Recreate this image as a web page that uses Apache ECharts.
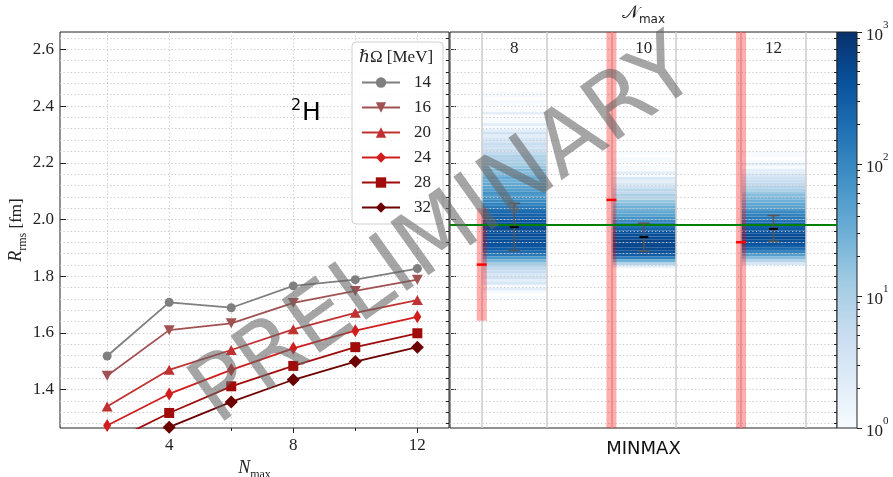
<!DOCTYPE html>
<html>
<head>
<meta charset="utf-8">
<script src="https://cdn.jsdelivr.net/npm/echarts@6/dist/echarts.min.js"></script>
<style>
  html, body { margin: 0; padding: 0; background: #fff; }
  #chart { width: 893px; height: 477px; }
</style>
</head>
<body>
<div id="chart"></div>
<script>
// ---- left panel: R_rms vs Nmax, one line per hbar*Omega ----
const nmax = [2, 4, 6, 8, 10, 12]
const hwLabels = ['14', '16', '20', '24', '28', '32']
const r14 = [1.519, 1.708, 1.689, 1.766, 1.788, 1.827]
const r16 = [1.449, 1.610, 1.634, 1.706, 1.748, 1.788]
const r20 = [1.341, 1.470, 1.540, 1.613, 1.671, 1.716]
const r24 = [1.274, 1.385, 1.470, 1.546, 1.608, 1.657]
const r28 = [1.210, 1.318, 1.412, 1.484, 1.550, 1.599]
const r32 = [1.170, 1.268, 1.357, 1.435, 1.499, 1.550]

// axis ticks
const yMajor = [1.4, 1.6, 1.8, 2.0, 2.2, 2.4, 2.6]
const yMinor = [1.28, 1.32, 1.36, 1.40, 1.44, 1.48, 1.52, 1.56, 1.60, 1.64, 1.68, 1.72,
  1.76, 1.80, 1.84, 1.88, 1.92, 1.96, 2.00, 2.04, 2.08, 2.12, 2.16, 2.20, 2.24, 2.28,
  2.32, 2.36, 2.40, 2.44, 2.48, 2.52, 2.56, 2.60, 2.64]
const xMajor = [4, 8, 12]
const xGrid = [2, 4, 6, 8, 10, 12]

// ---- right panel: MINMAX histograms per Nmax ----
const colNmax = [8, 10, 12]
const colLabels = ['8', '10', '12']
const colLines = [8, 9, 10, 11, 12, 13]
const binWidth = 0.01
const hist8Start = 1.72
const hist8 = [1, 0, 1, 2, 1, 3, 2, 4, 3, 5, 6, 8, 12, 25, 60, 140, 220, 300, 380, 420,
  450, 400, 480, 420, 500, 450, 400, 360, 300, 260, 220, 180, 150, 110, 90, 75, 60, 70, 50, 45,
  38, 30, 35, 25, 20, 22, 15, 12, 10, 8, 9, 6, 5, 4, 5, 3, 3, 2, 4, 2,
  1, 2, 1, 1, 0, 2, 1, 0, 1, 1, 0, 1, 1]
const hist10Start = 1.83
const hist10 = [2, 8, 30, 120, 300, 420, 500, 550, 520, 600, 480, 450, 380, 260, 180, 130, 90, 70, 45, 35,
  28, 30, 20, 15, 8, 10, 6, 7, 4, 3, 2, 3, 1, 2, 1, 1, 0, 1, 1, 0, 1]
const hist12Start = 1.83
const hist12 = [1, 3, 8, 20, 50, 110, 200, 300, 400, 450, 500, 480, 420, 350, 280, 220, 170, 150, 110, 90,
  60, 45, 40, 30, 25, 20, 14, 10, 8, 6, 5, 4, 3, 2, 2, 1, 2, 1, 0, 1, 1]

// red estimate + band, and mean +- error
const estMid = [1.841, 2.069, 1.920]
const estLo = [1.643, 1.0, 1.0]
const estHi = [2.039, 3.0, 3.0]
const errMean = [1.973, 1.938, 1.967]
const errLo = [1.891, 1.888, 1.923]
const errHi = [2.057, 1.987, 2.014]
const refR = 1.975

// colorbar (log10 counts)
const cbMajor = [0, 1, 2, 3]
const cbMinorCounts = [2, 3, 4, 5, 6, 7, 8, 9, 20, 30, 40, 50, 60, 70, 80, 90, 200, 300, 400, 500, 600, 700, 800, 900]

const BLUES = ['#f7fbff', '#deebf7', '#c6dbef', '#9ecae1', '#6baed6', '#4292c6', '#2171b5', '#08519c', '#08306b']
const SERIF = "'Liberation Serif', 'DejaVu Serif', serif"
const SANS = "'DejaVu Sans', 'Liberation Sans', sans-serif"
const INK = '#222'
const GRID_DOT = { color: '#c8c8c8', width: 1, type: [1.2, 2.4] }

const Y_MIN = 1.265, Y_MAX = 2.661

const hwStyles = [
  { color: '#7f7f7f', symbol: 'circle', size: 9 },
  { color: '#a05252', symbol: 'triangle', size: [11, 10], rotate: 180 },
  { color: '#c03232', symbol: 'triangle', size: [11, 10] },
  { color: '#d01e1e', symbol: 'diamond', size: [8, 13] },
  { color: '#a00c0c', symbol: 'rect', size: 10 },
  { color: '#6c0000', symbol: 'diamond', size: [13, 13] },
]
const rValues = [r14, r16, r20, r24, r28, r32]

const heatData = []
;[[hist8Start, hist8], [hist10Start, hist10], [hist12Start, hist12]].forEach(([start, hist], c) => {
  hist.forEach((n, k) => {
    if (n > 0) heatData.push([colNmax[c], +(start + k * binWidth).toFixed(3), Math.log10(n)])
  })
})

const colCenters = colNmax.map(n => n + 0.5)

const lineSeries = hwStyles.map((s, i) => ({
  type: 'line',
  name: hwLabels[i],
  xAxisIndex: 0,
  yAxisIndex: 0,
  data: nmax.map((n, k) => [n, rValues[i][k]]),
  symbol: s.symbol,
  symbolSize: s.size,
  symbolRotate: s.rotate || 0,
  itemStyle: { color: s.color },
  lineStyle: { color: s.color, width: 1.8 },
  clip: true,
  z: 4,
  emphasis: { disabled: true },
}))

// main glyph lifted by bottom padding, subscript sits on the line bottom
const subRich = {
  i: { fontFamily: SERIF, fontStyle: 'italic', fontSize: 18, verticalAlign: 'bottom', padding: [0, 0, 4, 0], color: INK },
  s: { fontFamily: SERIF, fontSize: 12, verticalAlign: 'bottom', color: INK },
  n: { fontFamily: SERIF, fontSize: 17, verticalAlign: 'bottom', padding: [0, 0, 4, 0], color: INK },
}

const gridBase = { show: true, borderColor: INK, borderWidth: 1, outerBoundsMode: 'none', containLabel: false }

const option = {
  animation: false,
  backgroundColor: '#fff',
  grid: [
    { ...gridBase, left: 60, top: 32, width: 389, height: 396 },
    { ...gridBase, left: 450, top: 32, width: 387, height: 396 },
    { ...gridBase, show: false, left: 837, top: 32, width: 20, height: 396 },
  ],
  legend: {
    data: hwLabels,
    orient: 'vertical',
    left: 352,
    top: 42,
    padding: [32, 12, 8, 9],
    itemWidth: 38,
    itemHeight: 13,
    itemGap: 8,
    selectedMode: false,
    backgroundColor: 'rgba(255,255,255,0.85)',
    borderColor: '#d0d0d0',
    borderWidth: 1,
    borderRadius: 4,
    textStyle: { fontFamily: SERIF, fontSize: 17, color: INK, padding: [0, 0, 0, 9] },
    z: 20,
  },
  visualMap: {
    type: 'continuous',
    show: false,
    seriesIndex: 6,
    dimension: 2,
    min: 0,
    max: 3,
    inRange: { color: BLUES },
  },
  xAxis: [
    {
      gridIndex: 0, type: 'value', min: 0.48, max: 13.02, position: 'bottom',
      axisLine: { show: false, onZero: false },
      axisTick: { customValues: xMajor, length: 5, lineStyle: { color: INK } },
      axisLabel: { customValues: xMajor, fontFamily: SERIF, fontSize: 17, color: INK, margin: 9 },
      splitLine: { show: false },
      name: '{i|N}{s|max}', nameLocation: 'middle', nameGap: 24,
      nameTextStyle: { rich: subRich },
    },
    {
      gridIndex: 0, type: 'value', min: 0.48, max: 13.02, position: 'bottom',
      axisLine: { show: false, onZero: false },
      axisTick: { customValues: xGrid, length: 3, lineStyle: { color: INK } },
      axisLabel: { show: false },
      splitLine: { show: true, lineStyle: GRID_DOT },
    },
    {
      gridIndex: 1, type: 'value', min: 7.51, max: 13.48, position: 'bottom',
      axisLine: { show: false, onZero: false },
      axisTick: { show: false, customValues: colLines },
      axisLabel: { show: false },
      splitLine: { show: true, lineStyle: { color: '#cccccc', width: 1.5 } },
      z: 3,
      name: 'MINMAX', nameLocation: 'middle', nameGap: 12,
      nameTextStyle: { fontFamily: SANS, fontSize: 18, color: '#111' },
    },
    {
      gridIndex: 1, type: 'value', min: 7.51, max: 13.48, position: 'top',
      axisLine: { show: false, onZero: false },
      axisTick: { show: false },
      axisLabel: {
        inside: true, customValues: colCenters, margin: 8,
        fontFamily: SERIF, fontSize: 17, color: INK,
        formatter: v => colLabels[colCenters.indexOf(v)],
      },
      splitLine: { show: false },
      name: '{c|\u{1D4A9}}{s|max}', nameLocation: 'middle', nameGap: 6,
      nameTextStyle: {
        rich: {
          c: { fontFamily: "'DejaVu Serif', serif", fontSize: 18, verticalAlign: 'bottom', padding: [0, 0, 4, 0], color: INK },
          s: { fontFamily: SANS, fontSize: 12, verticalAlign: 'bottom', color: INK },
        },
      },
    },
    { gridIndex: 2, type: 'value', min: 0, max: 1, show: false },
  ],
  yAxis: [
    {
      gridIndex: 0, type: 'value', min: Y_MIN, max: Y_MAX,
      axisLine: { show: false, onZero: false },
      axisTick: { inside: true, customValues: yMajor, length: 6, lineStyle: { color: INK } },
      axisLabel: { customValues: yMajor, formatter: v => v.toFixed(1), fontFamily: SERIF, fontSize: 17, color: INK, margin: 6 },
      splitLine: { show: false },
      name: '{i|R}{s|rms}{n| [fm]}', nameLocation: 'middle', nameRotate: 90, nameGap: 28,
      nameTextStyle: { rich: subRich },
    },
    {
      gridIndex: 0, type: 'value', min: Y_MIN, max: Y_MAX,
      axisLine: { show: false, onZero: false },
      axisTick: { inside: true, customValues: yMinor, length: 3, lineStyle: { color: INK } },
      axisLabel: { show: false },
      splitLine: { show: true, lineStyle: GRID_DOT },
    },
    {
      gridIndex: 1, type: 'value', min: Y_MIN, max: Y_MAX,
      axisLine: { show: false, onZero: false },
      axisTick: { inside: true, customValues: yMajor, length: 6, lineStyle: { color: INK } },
      axisLabel: { show: false },
      splitLine: { show: false },
    },
    {
      gridIndex: 1, type: 'value', min: Y_MIN, max: Y_MAX,
      axisLine: { show: false, onZero: false },
      axisTick: { inside: true, customValues: yMinor, length: 3, lineStyle: { color: INK } },
      axisLabel: { show: false },
      splitLine: { show: true, lineStyle: GRID_DOT },
      z: 3,
    },
    {
      gridIndex: 2, type: 'value', min: 0, max: 3, position: 'right',
      axisLine: { show: false, onZero: false },
      axisTick: { customValues: cbMajor, length: 5, lineStyle: { color: INK } },
      axisLabel: {
        customValues: cbMajor, margin: 9,
        formatter: v => '{b|10}{p|' + v + '}',
        rich: {
          b: { fontFamily: SERIF, fontSize: 17, lineHeight: 24, verticalAlign: 'bottom', color: INK },
          p: { fontFamily: SERIF, fontSize: 11, lineHeight: 14, verticalAlign: 'top', color: INK },
        },
      },
      splitLine: { show: false },
    },
    {
      gridIndex: 2, type: 'value', min: 0, max: 3, position: 'right',
      axisLine: { show: false, onZero: false },
      axisTick: { customValues: cbMinorCounts.map(Math.log10), length: 3, lineStyle: { color: INK } },
      axisLabel: { show: false },
      splitLine: { show: false },
    },
  ],
  series: [
    ...lineSeries,
    {
      // histogram stripes
      type: 'custom',
      xAxisIndex: 2,
      yAxisIndex: 2,
      z: 1,
      clip: true,
      dimensions: ['nmax', 'r', 'logc'],
      encode: { x: 0, y: 1 },
      data: heatData,
      renderItem(params, api) {
        const x0 = api.value(0), y0 = api.value(1)
        const a = api.coord([x0, y0 + binWidth])
        const b = api.coord([x0 + 1, y0])
        return {
          type: 'rect',
          shape: { x: a[0], y: a[1], width: b[0] - a[0], height: b[1] - a[1] },
          style: { fill: api.visual('color') },
        }
      },
    },
    {
      // red band + estimate marker
      type: 'custom',
      xAxisIndex: 2,
      yAxisIndex: 2,
      z: 4,
      clip: true,
      encode: { x: 0, y: 3 },
      data: colNmax.map((n, i) => [n, estLo[i], estHi[i], estMid[i]]),
      renderItem(params, api) {
        const lo = api.coord([api.value(0), api.value(1)])
        const hi = api.coord([api.value(0), api.value(2)])
        const mid = api.coord([api.value(0), api.value(3)])
        return {
          type: 'group',
          children: [
            { type: 'rect', shape: { x: lo[0] - 5, y: hi[1], width: 10, height: lo[1] - hi[1] },
              style: { fill: 'rgba(255,0,0,0.32)' } },
            { type: 'line', shape: { x1: mid[0] - 5, y1: mid[1], x2: mid[0] + 5, y2: mid[1] },
              style: { stroke: '#ff0000', lineWidth: 2.5 } },
          ],
        }
      },
    },
    {
      // mean +- error, plus reference line
      type: 'custom',
      xAxisIndex: 2,
      yAxisIndex: 2,
      z: 6,
      clip: true,
      encode: { x: 0, y: 1 },
      data: colNmax.map((n, i) => [n + 0.5, errMean[i], errLo[i], errHi[i]]),
      renderItem(params, api) {
        const m = api.coord([api.value(0), api.value(1)])
        const lo = api.coord([api.value(0), api.value(2)])
        const hi = api.coord([api.value(0), api.value(3)])
        const gray = { stroke: '#555', lineWidth: 1.5 }
        return {
          type: 'group',
          children: [
            { type: 'line', shape: { x1: m[0], y1: lo[1], x2: m[0], y2: hi[1] }, style: gray },
            { type: 'line', shape: { x1: m[0] - 6, y1: lo[1], x2: m[0] + 6, y2: lo[1] }, style: gray },
            { type: 'line', shape: { x1: m[0] - 6, y1: hi[1], x2: m[0] + 6, y2: hi[1] }, style: gray },
            { type: 'line', shape: { x1: m[0] - 4.5, y1: m[1], x2: m[0] + 4.5, y2: m[1] },
              style: { stroke: '#000', lineWidth: 2 } },
          ],
        }
      },
      markLine: {
        silent: true,
        symbol: 'none',
        label: { show: false },
        lineStyle: { color: '#008000', width: 2, type: 'solid' },
        data: [{ yAxis: refR }],
      },
    },
    {
      // colorbar
      type: 'custom',
      xAxisIndex: 4,
      yAxisIndex: 4,
      z: 2,
      data: [[0, cbMajor[0], 1, cbMajor[cbMajor.length - 1]]],
      renderItem(params, api) {
        const a = api.coord([api.value(0), api.value(3)])
        const b = api.coord([api.value(2), api.value(1)])
        return {
          type: 'rect',
          shape: { x: a[0], y: a[1], width: b[0] - a[0], height: b[1] - a[1] },
          style: {
            fill: {
              type: 'linear', x: 0, y: 1, x2: 0, y2: 0,
              colorStops: BLUES.map((c, i) => ({ offset: i / (BLUES.length - 1), color: c })),
            },
            stroke: INK,
            lineWidth: 1,
          },
        }
      },
    },
  ],
  graphic: [
    {
      type: 'text', x: 359, y: 58, z: 30,
      style: { text: '\u210F\u03A9 [MeV]', font: '17px ' + SERIF, fill: INK, align: 'left', verticalAlign: 'middle' },
    },
    {
      type: 'text', x: 291, y: 106, z: 30,
      style: { text: '2', font: '16px ' + SANS, fill: '#000', align: 'left', verticalAlign: 'middle' },
    },
    {
      type: 'text', x: 302, y: 113, z: 30,
      style: { text: 'H', font: '25px ' + SANS, fill: '#000', align: 'left', verticalAlign: 'middle' },
    },
    {
      type: 'text', x: 446, y: 234, rotation: 0.62, z: 100,
      style: {
        text: 'PRELIMINARY', font: '90px ' + SANS, fill: 'rgba(100,100,100,0.58)',
        align: 'center', verticalAlign: 'middle',
      },
    },
  ],
}

const chart = echarts.init(document.getElementById('chart'))
chart.setOption(option)
</script>
</body>
</html>
